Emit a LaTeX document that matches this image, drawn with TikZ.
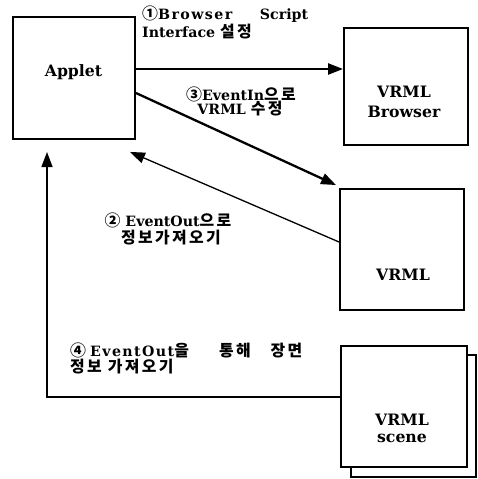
\documentclass[tikz,border=0pt]{standalone}
\usepackage{fontspec}
\setmainfont{DejaVu Serif}
\newfontfamily\korfont{Noto Sans CJK KR}[Scale=1.12,LetterSpace=15]
\usetikzlibrary{arrows.meta}
\newcommand\ko[1]{{\korfont\bfseries #1}}
\newcommand\spaced[1]{{\addfontfeature{LetterSpace=10}#1}}
\begin{document}
\begin{tikzpicture}[x=1pt,y=-1pt,
  box/.style={draw, line width=1.9pt, fill=white, inner sep=0pt},
  boxtxt/.style={inner sep=0pt, anchor=base, font=\bfseries\fontsize{15.7}{20}\selectfont},
  lab/.style={inner sep=0pt, font=\bfseries\fontsize{14.2}{16}\selectfont},
  thickarr/.style={line width=2.3pt, -{Triangle[length=15pt,width=11pt]}},
  thinarr/.style={line width=1.3pt, -{Triangle[length=15pt,width=11pt]}}
]
\useasboundingbox (0,0) rectangle (478,479);

% boxes
\node[box, minimum width=122pt, minimum height=122pt] (applet) at (74,78) {};
\node[box, minimum width=124pt, minimum height=117pt] (browser) at (406,86.5) {};
\node[box, minimum width=124pt, minimum height=121pt] (vrml) at (402,249.5) {};
\node[box, minimum width=125pt, minimum height=122pt] (sceneback) at (413.5,416) {};
\node[box, minimum width=126pt, minimum height=121pt] (scene) at (404,406.5) {};

% box captions
\node[boxtxt] (tapplet) at (73.5,76) {Applet};
\node[boxtxt] (tbrowser1) at (404,97) {VRML};
\node[boxtxt] (tbrowser2) at (404,117) {Browser};
\node[boxtxt] (tvrml) at (403,280) {VRML};
\node[boxtxt] (tscene1) at (402,425) {VRML};
\node[boxtxt] (tscene2) at (402,442) {scene};

% connectors
\draw[thickarr] (applet.east |- 0,69) -- (browser.west |- 0,69);
\draw[thickarr] (applet.east |- 0,93) -- ([shift={(-3,-3)}]vrml.north west);
\draw[thinarr] (vrml.west |- 0,242) -- ([shift={(-6,12)}]applet.south east);
\coordinate (up4) at (47,152);
\draw[thinarr] (scene.west |- 0,397) -| (up4);

% labels
\node[lab, anchor=base west] (l1a) at (142,19)
  {\makebox[166pt][s]{\ko{①}\spaced{Browser} Script}};
\node[lab, anchor=base west] (l1b) at (142,37) {Interface \ko{설정}};
\node[lab, anchor=base] (l3a) at (241,100) {\ko{③}EventIn\ko{으로}};
\node[lab, anchor=base] (l3b) at (240,114.5) {VRML \ko{수정}};
\node[lab, anchor=base] (l2a) at (168,226.5) {\ko{②} EventOut\ko{으로}};
\node[lab, anchor=base] (l2b) at (171,243) {\ko{정보가져오기}};
\node[lab, anchor=base west] (l4a) at (70,356)
  {\makebox[232pt][s]{\ko{④}\hspace{4pt}\spaced{EventOut}\ko{을}\hspace{24pt plus 1fill}\ko{통해}\hspace{16pt plus 0.6fill}\ko{장면}}};
\node[lab, anchor=base west] (l4b) at (70,372) {\ko{정보\hspace{6pt}가져오기}};
\end{tikzpicture}
\end{document}
